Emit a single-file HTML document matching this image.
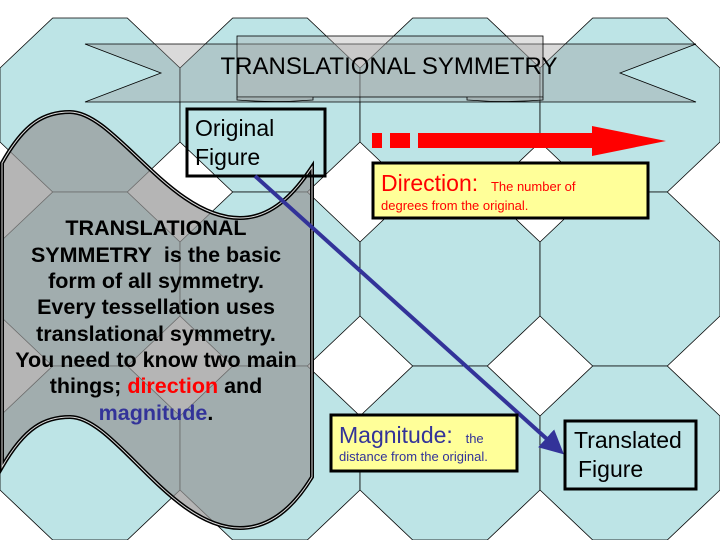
<!DOCTYPE html>
<html><head><meta charset="utf-8"><style>
html,body{margin:0;padding:0;background:#fff;}
svg{display:block;}
text{font-family:"Liberation Sans",Arial,sans-serif;}
</style></head><body>
<svg width="720" height="540" viewBox="0 0 720 540" xmlns="http://www.w3.org/2000/svg">
<defs>
<g id="oct"><polygon points="-37.3,-87 37.3,-87 90,-37 90,37 37.3,87 -37.3,87 -90,37 -90,-37" fill="#bde4e6" stroke="#000" stroke-width="0.8"/></g>
<marker id="ah" markerWidth="6" markerHeight="6" refX="4" refY="3" orient="auto" markerUnits="strokeWidth"><path d="M0,0 L6,3 L0,6 z" fill="#333399"/></marker>
</defs>
<rect width="720" height="540" fill="#fff"/>
<use href="#oct" x="90" y="105"/><use href="#oct" x="270" y="105"/><use href="#oct" x="450" y="105"/><use href="#oct" x="630" y="105"/>
<use href="#oct" x="90" y="279"/><use href="#oct" x="270" y="279"/><use href="#oct" x="450" y="279"/><use href="#oct" x="630" y="279"/>
<use href="#oct" x="90" y="453"/><use href="#oct" x="270" y="453"/><use href="#oct" x="450" y="453"/><use href="#oct" x="630" y="453"/>

<!-- banner -->
<polygon points="85,44 696,44 620,73 696,102 85,102 161,73" fill="rgba(150,150,150,0.35)" stroke="#000" stroke-width="0.8"/>
<rect x="237" y="36" width="306" height="61" fill="rgba(170,170,170,0.35)" stroke="#000" stroke-width="0.8"/>
<path d="M237,97 L237,100 Q275,103 313,100 L313,97" fill="rgba(150,150,150,0.4)" stroke="#000" stroke-width="0.8"/>
<path d="M467,97 L467,100 Q505,103 543,100 L543,97" fill="rgba(150,150,150,0.4)" stroke="#000" stroke-width="0.8"/>
<text x="389" y="74" font-size="24" text-anchor="middle" fill="#000">TRANSLATIONAL SYMMETRY</text>

<!-- wave -->
<path id="wv" d="M2,163 C25,122 45,112 70,112 C115,112 170,218 240,218 C275,218 298,188 312,167 L312,477 C298,500 275,528 240,528 C170,528 115,417 70,417 C45,417 25,427 2,467 Z" fill="rgba(150,150,150,0.7)" stroke="#000" stroke-width="4"/>
<path d="M2,163 C25,122 45,112 70,112 C115,112 170,218 240,218 C275,218 298,188 312,167 L312,477 C298,500 275,528 240,528 C170,528 115,417 70,417 C45,417 25,427 2,467 Z" fill="none" stroke="#ddd" stroke-width="1"/>
<g font-size="21.5" font-weight="bold" text-anchor="middle" fill="#000">
<text x="156" y="235">TRANSLATIONAL</text>
<text x="156" y="262">SYMMETRY&#160; is the basic</text>
<text x="156" y="288">form of all symmetry.</text>
<text x="156" y="314">Every tessellation uses</text>
<text x="156" y="341">translational symmetry.</text>
<text x="156" y="367">You need to know two main</text>
<text x="156" y="393">things; <tspan fill="#ff0000">direction</tspan> and</text>
<text x="156" y="420"><tspan fill="#333399">magnitude</tspan>.</text>
</g>

<!-- original figure -->
<rect x="187" y="109" width="138" height="67" fill="none" stroke="#000" stroke-width="3"/>
<text x="195" y="136" font-size="23">Original</text>
<text x="195" y="165" font-size="23">Figure</text>

<!-- red arrow -->
<rect x="372" y="133" width="10" height="15" fill="#f00"/>
<rect x="390" y="133" width="20" height="15" fill="#f00"/>
<polygon points="418,133 592,133 592,126 666,141 592,156 592,148 418,148" fill="#f00"/>

<!-- direction box -->
<rect x="373" y="163" width="275" height="55" fill="#ffff99" stroke="#000" stroke-width="3"/>
<text x="381" y="191" font-size="23" fill="#f00">Direction:&#160; <tspan font-size="13">The number of</tspan></text>
<text x="381" y="210" font-size="13" fill="#f00">degrees from the original.</text>

<!-- blue connector -->
<line x1="255" y1="176" x2="558" y2="449" stroke="#333399" stroke-width="4" marker-end="url(#ah)"/>

<!-- magnitude box -->
<rect x="331" y="415" width="186" height="56" fill="#ffff99" stroke="#000" stroke-width="3"/>
<text x="339" y="443" font-size="23" fill="#333399">Magnitude:&#160; <tspan font-size="13">the</tspan></text>
<text x="339" y="461" font-size="13" fill="#333399">distance from the original.</text>

<!-- translated figure -->
<rect x="565" y="421" width="131" height="68" fill="none" stroke="#000" stroke-width="3"/>
<text x="574" y="448" font-size="23">Translated</text>
<text x="578" y="477" font-size="23">Figure</text>
</svg>
</body></html>
